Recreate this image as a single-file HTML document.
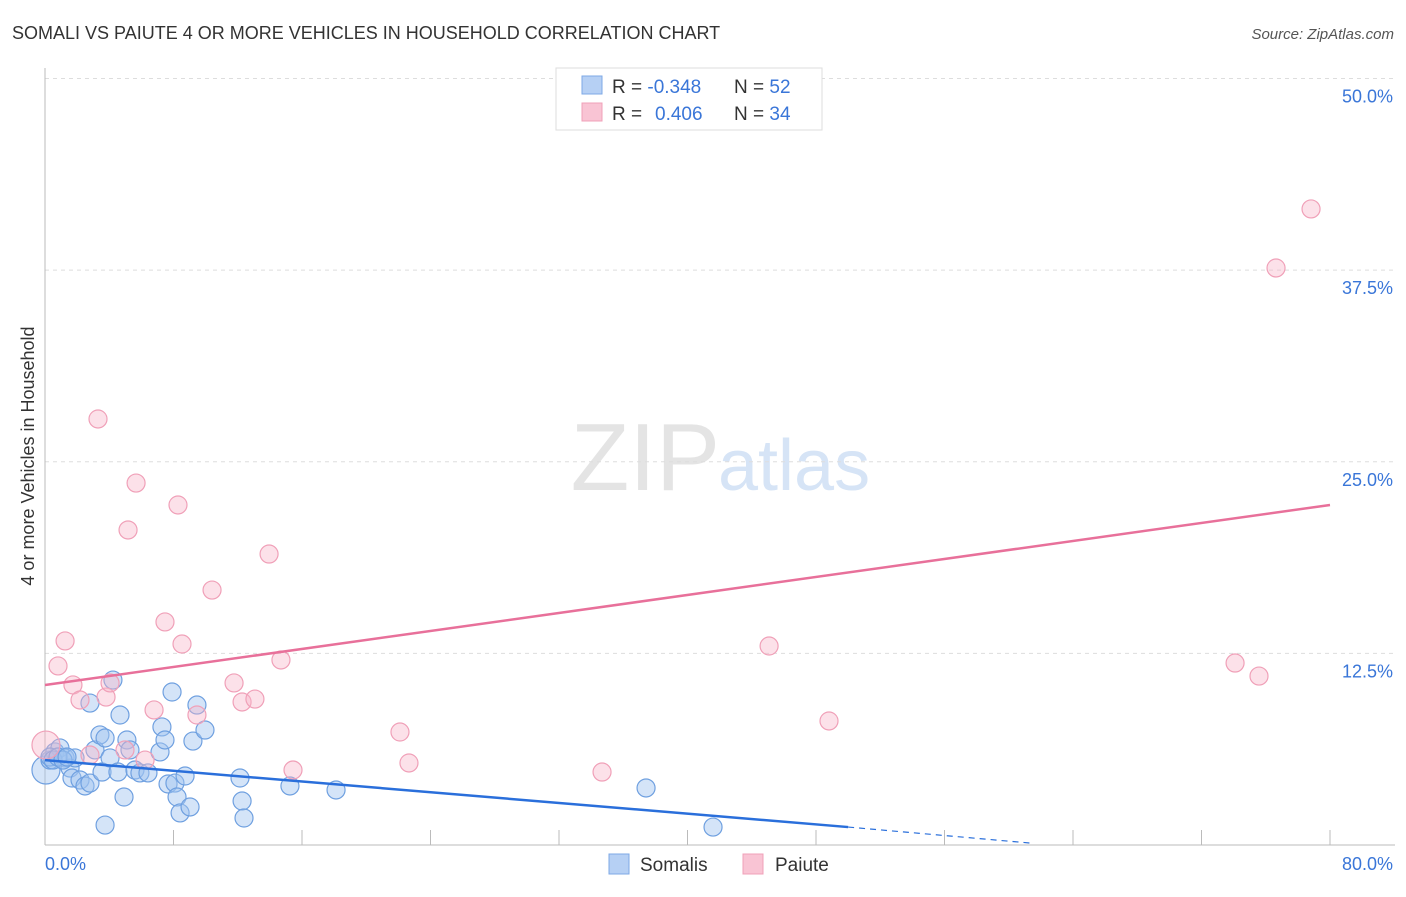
<!DOCTYPE html>
<html><head><meta charset="utf-8"><style>
body{margin:0;background:#fff;font-family:"Liberation Sans",sans-serif}
svg text{font-family:"Liberation Sans",sans-serif}
</style></head><body>
<svg id="chart" width="1406" height="892">
<text x="12" y="39" font-size="18" fill="#333">SOMALI VS PAIUTE 4 OR MORE VEHICLES IN HOUSEHOLD CORRELATION CHART</text>
<text x="1394" y="39" font-size="15" fill="#555" text-anchor="end" font-style="italic">Source: ZipAtlas.com</text>
<text x="720" y="490" font-size="96" fill="#e4e4e4" text-anchor="end" font-family="Liberation Serif">ZIP</text>
<text x="718" y="490" font-size="72" fill="#d6e4f6">atlas</text>
<g id="grid"></g><g id="axes"></g>
<g id="points"></g><g id="lines"></g>
<text transform="translate(34,456) rotate(-90)" font-size="18" fill="#333" text-anchor="middle">4 or more Vehicles in Household</text>
<text x="45" y="870" font-size="18" fill="#3a76d8">0.0%</text>
<text x="1393" y="870" font-size="18" fill="#3a76d8" text-anchor="end">80.0%</text>
<g>
<rect x="556" y="68" width="266" height="62" fill="#fff" stroke="#ddd"/>
<rect x="582" y="76" width="20" height="18" fill="#b6d0f4" stroke="#7ea8e6"/>
<rect x="582" y="103" width="20" height="18" fill="#f9c4d4" stroke="#f0a0b8"/>
<text x="612" y="93" font-size="19" fill="#333">R = <tspan fill="#3a76d8">-0.348</tspan><tspan x="734">N = </tspan><tspan fill="#3a76d8">52</tspan></text>
<text x="612" y="120" font-size="19" fill="#333">R = <tspan fill="#3a76d8" x="655">0.406</tspan><tspan x="734">N = </tspan><tspan fill="#3a76d8">34</tspan></text>
</g>
<g>
<rect x="609" y="854" width="20" height="20" fill="#b6d0f4" stroke="#7ea8e6"/>
<text x="640" y="871" font-size="19" fill="#333">Somalis</text>
<rect x="743" y="854" width="20" height="20" fill="#f9c4d4" stroke="#f0a0b8"/>
<text x="775" y="871" font-size="19" fill="#333">Paiute</text>
</g>
</svg>
<script>
const yTicks=[12.5,25.0,37.5,50.0];
const somaliX=[0.06,0.31,0.62,0.93,0.31,1.25,1.56,1.87,1.68,2.18,2.49,2.80,3.11,3.42,3.74,3.55,4.05,4.23,4.54,4.67,4.92,5.10,5.29,5.60,5.91,6.41,3.74,7.16,7.28,7.47,7.66,7.91,8.09,8.22,8.41,8.72,9.03,9.21,9.46,9.96,12.14,12.27,12.39,15.25,18.12,37.42,41.59,2.80,0.50,0.81,1.12,1.37];
const somaliY=[4.89,5.54,6.07,6.33,5.74,5.68,5.02,5.68,4.37,4.24,3.85,4.04,6.20,7.18,6.98,4.76,5.68,10.76,4.76,8.48,3.13,6.85,6.20,4.89,4.70,4.70,1.30,6.07,7.70,6.85,3.98,9.98,4.04,3.13,2.09,4.50,2.48,6.78,9.13,7.50,4.37,2.87,1.76,3.85,3.59,3.72,1.17,9.26,5.54,5.74,5.54,5.74];
const paiuteX=[0.06,1.25,0.81,1.74,2.18,3.30,3.80,4.05,5.17,5.67,4.98,6.23,6.79,7.47,8.28,8.53,9.46,10.40,11.77,12.27,13.07,13.95,14.69,15.44,22.10,22.66,34.68,45.08,48.81,74.09,75.58,76.64,78.82,2.80];
const paiuteY=[6.52,13.31,11.68,10.44,9.46,27.79,9.65,10.57,20.55,23.61,6.20,5.54,8.81,14.55,22.18,13.11,8.48,16.63,10.57,9.33,9.52,18.98,12.07,4.89,7.37,5.35,4.76,12.98,8.09,11.87,11.02,37.64,41.49,5.87];
const somaliTrend=[5.54,1.17];const somaliTrendX=[0,50];const somaliDashEnd=[61.3,0.13];
const paiuteTrend=[10.44,22.18];const paiuteTrendX=[0,80];
const NS='http://www.w3.org/2000/svg';
const sx=v=>45+v*1285/80, sy=v=>845-v*15.33;
function mk(t,a,p){const e=document.createElementNS(NS,t);for(const k in a)e.setAttribute(k,a[k]);p.appendChild(e);return e;}
const grid=document.getElementById('grid'),axes=document.getElementById('axes');
yTicks.forEach(t=>{
 const l=mk('line',{x1:45,x2:1395,y1:sy(t),y2:sy(t),stroke:'#ddd','stroke-dasharray':'4,4'},grid);
 
 
 const tx=mk('text',{x:1393,y:sy(t)+24,'font-size':18,fill:'#3a76d8','text-anchor':'end'},grid);
 tx.textContent=t.toFixed(1)+'%';
 
 
});
const ya=mk('line',{x1:45,x2:45,y1:68,y2:845,stroke:'#bbb'},axes);


const xa=mk('line',{x1:45,x2:1395,y1:845,y2:845,stroke:'#bbb'},axes);


for(let i=0;i<=10;i++){const tk=mk('line',{x1:sx(i*8),x2:sx(i*8),y1:830,y2:845,stroke:'#bbb'},axes);
 
 }
const pts=document.getElementById('points');
somaliX.forEach((x,i)=>{const c=mk('circle',{cx:sx(x),cy:sy(somaliY[i]),r:i===0?14:9,fill:'rgba(160,196,240,0.45)',stroke:'#6fa0e0','stroke-width':1.2},pts);
 
 });
paiuteX.forEach((x,i)=>{const c=mk('circle',{cx:sx(x),cy:sy(paiuteY[i]),r:i===0?14:9,fill:'rgba(248,180,200,0.4)',stroke:'#f0a0b8','stroke-width':1.2},pts);
 
 });
const ln=document.getElementById('lines');
const pl=mk('line',{x1:sx(paiuteTrendX[0]),y1:sy(paiuteTrend[0]),x2:sx(paiuteTrendX[1]),y2:sy(paiuteTrend[1]),stroke:'#e8709a','stroke-width':2.5},ln);


const bl=mk('line',{x1:sx(somaliTrendX[0]),y1:sy(somaliTrend[0]),x2:sx(somaliTrendX[1]),y2:sy(somaliTrend[1]),stroke:'#2a6fdb','stroke-width':2.5},ln);


const bd=mk('line',{x1:sx(somaliTrendX[1]),y1:sy(somaliTrend[1]),x2:sx(somaliDashEnd[0]),y2:sy(somaliDashEnd[1]),stroke:'#2a6fdb','stroke-width':1.2,'stroke-dasharray':'6,5'},ln);


</script>
</body></html>
